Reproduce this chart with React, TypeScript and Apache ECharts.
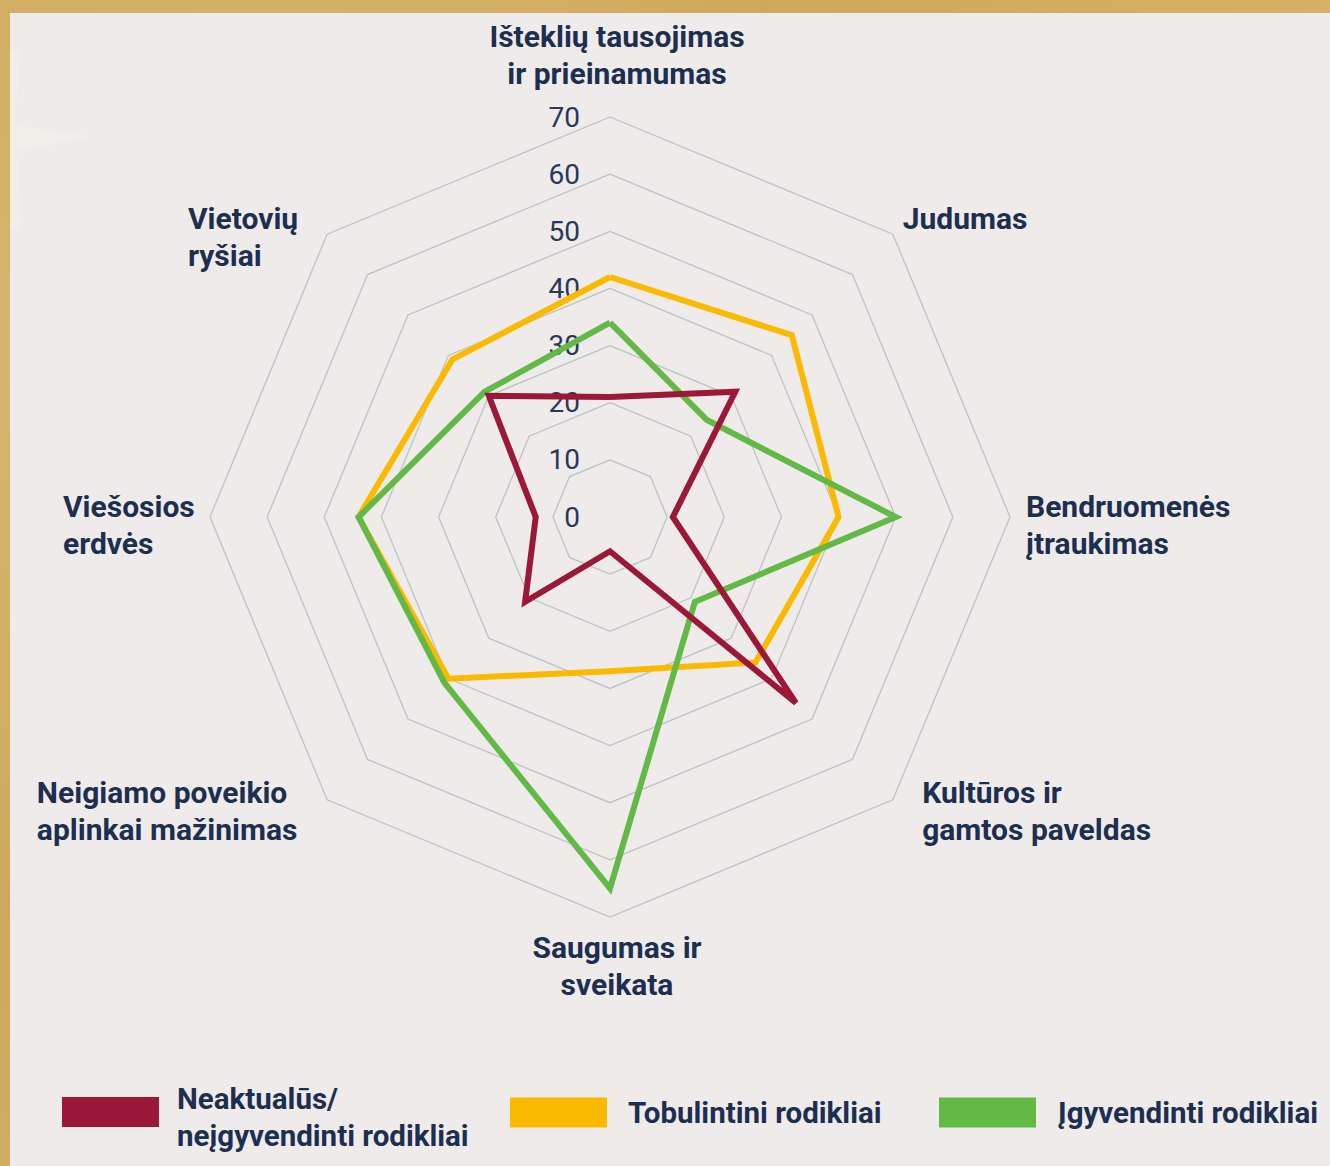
import React, { useEffect, useRef } from "react";
import * as echarts from "echarts";

// Indicators in ECharts radar order (starting at top, going counter-clockwise)
const indicatorNames = [
  "Išteklių tausojimas\nir prieinamumas",
  "Vietovių\nryšiai",
  "Viešosios\nerdvės",
  "Neigiamo poveikio\naplinkai mažinimas",
  "Saugumas ir\nsveikata",
  "Kultūros ir\ngamtos paveldas",
  "Bendruomenės\nįtraukimas",
  "Judumas",
];
const axisMin = 0;
const axisMax = 70;
const axisSplits = 7;

const seriesNames = [
  "Neaktualūs/\nneįgyvendinti rodikliai",
  "Tobulintini rodikliai",
  "Įgyvendinti rodikliai",
];
const neaktualus = [21, 30, 13, 21, 6, 46, 11, 31];
const tobulintini = [42, 39, 44, 40, 27, 36, 40, 45];
const igyvendinti = [34, 31, 44, 41, 65, 21, 50, 24];

const colors = ["#9b1838", "#fbb900", "#63b946"];

export default function App() {
  const ref = useRef<HTMLDivElement>(null);

  useEffect(() => {
    const chart = echarts.init(ref.current!, null, { renderer: "svg" });
    const navy = "#1d2f50";
    const base = {
      fontFamily: "Roboto",
      fontWeight: "bold",
      fontSize: 30,
      color: navy,
      lineHeight: 37,
    };
    const styleKeys = ["top", "vr", "ve", "ne", "sa", "ku", "be", "ju"];
    const nameGaps = [25, -4, 16, 16, 12, 16, 16, 14];
    const namePads = [
      [0, 0, 0, 14],
      [0, 0, 0, 0],
      [16, 0, 0, 0],
      [0, 0, 0, 0],
      [0, 0, 0, 14],
      [0, 0, 0, 18],
      [16, 0, 0, 0],
      [0, 0, 12, 0],
    ];
    const rich: any = {
      top: { ...base, align: "center" },
      vr: { ...base, width: 142, align: "left" },
      ve: { ...base, width: 131, align: "left" },
      ne: { ...base, width: 279, align: "left" },
      sa: { ...base, align: "center" },
      ku: { ...base },
      be: { ...base },
      ju: { ...base },
    };

    const seriesData = [neaktualus, tobulintini, igyvendinti];
    const drawOrder = [1, 2, 0];

    const legendLefts = [57, 505, 934];
    const legendTops = [1065, 1089, 1089];
    const legendPads = [
      [0, 0, 0, 13],
      [0, 0, 0, 16],
      [0, 0, 0, 17],
    ];
    const legendBase = {
      fontFamily: "Roboto",
      fontWeight: "bold",
      fontSize: 29.5,
      color: navy,
      lineHeight: 37,
    };

    chart.setOption({
      animation: false,
      backgroundColor: "transparent",
      radar: {
        center: [610, 517],
        radius: 400,
        startAngle: 90,
        shape: "polygon",
        splitNumber: axisSplits,
        indicator: indicatorNames.map((n, i) => ({
          name: n,
          min: axisMin,
          max: axisMax,
          nameGap: nameGaps[i],
          nameTextStyle: { padding: namePads[i] },
          axisLabel: { show: i === 0 },
        })),
        axisName: {
          ...base,
          formatter: (name: string) => {
            const idx = indicatorNames.indexOf(name);
            const key = styleKeys[idx] || "be";
            return name
              .split("\n")
              .map((l) => `{${key}|${l}}`)
              .join("\n");
          },
          rich,
        },
        axisLine: { show: false },
        axisTick: { show: false },
        splitArea: { show: false },
        splitLine: { lineStyle: { color: "#b9c5c3", width: 1.3 } },
        axisLabel: {
          show: false,
          fontFamily: "Roboto",
          fontSize: 28,
          color: "#27385a",
          margin: 30,
        },
      },
      legend: seriesNames.map((s, i) => ({
        data: [s],
        left: legendLefts[i],
        top: legendTops[i],
        icon: "rect",
        itemWidth: 97,
        itemHeight: 30,
        selectedMode: false,
        formatter:
          i === 0
            ? (name: string) =>
                "{z| }\n" +
                name
                  .split("\n")
                  .map((l) => `{a|${l}}`)
                  .join("\n")
            : undefined,
        textStyle: {
          ...legendBase,
          padding: legendPads[i],
          rich: {
            a: { ...legendBase },
            z: { fontSize: 2, lineHeight: 10 },
          },
        },
      })),
      series: drawOrder.map((i) => ({
        type: "radar",
        name: seriesNames[i],
        symbol: "none",
        silent: true,
        itemStyle: { color: colors[i] },
        lineStyle: { color: colors[i], width: 6, join: "miter", miterLimit: 10 },
        data: [{ name: seriesNames[i], value: seriesData[i] }],
      })),
    });

    return () => chart.dispose();
  }, []);

  return (
    <div
      style={{
        position: "absolute",
        left: 0,
        top: 0,
        width: 1330,
        height: 1166,
        overflow: "hidden",
        background:
          "radial-gradient(circle at 20% 30%, #dcbd78 0%, #cfa85c 45%, #d8b46a 100%)",
      }}
    >
      <div
        style={{
          position: "absolute",
          left: 10,
          top: 13,
          right: 0,
          bottom: 0,
          background: "#efebea",
        }}
      />
      <div
        style={{
          position: "absolute",
          left: 10,
          top: 50,
          width: 80,
          height: 180,
          background: "#f2efeb",
          clipPath:
            "polygon(0% 0%, 12% 0%, 6% 42%, 100% 48%, 8% 56%, 14% 100%, 0% 100%)",
        }}
      />
      <div
        ref={ref}
        style={{ position: "absolute", left: 0, top: 0, width: 1330, height: 1166 }}
      />
    </div>
  );
}
